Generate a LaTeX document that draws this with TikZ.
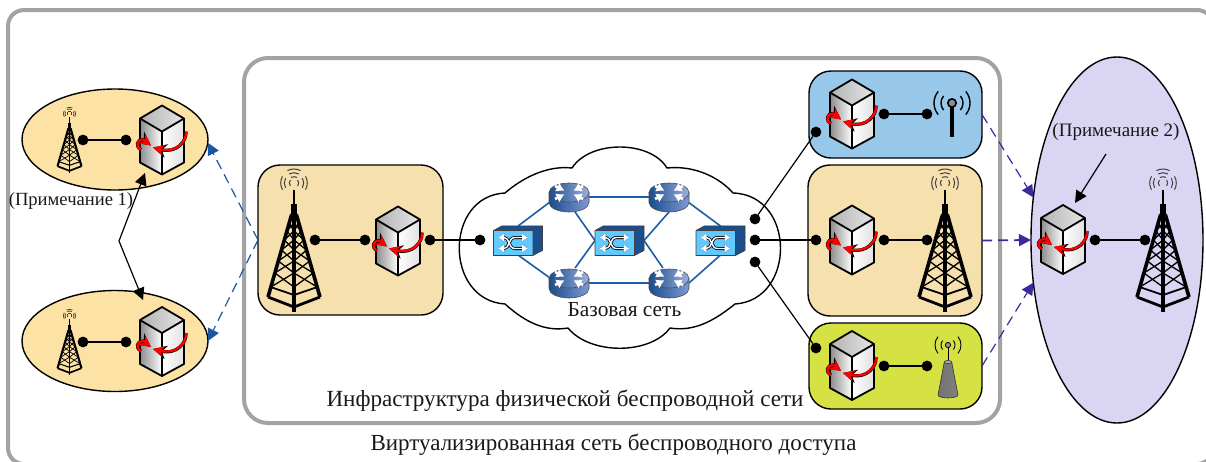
\documentclass[tikz,border=0pt]{standalone}
\usepackage{fontspec}
\usepackage{xcolor}
\setmainfont{Liberation Serif}
\usetikzlibrary{arrows.meta,shapes.geometric,positioning}
\definecolor{framegray}{HTML}{A3A3A3}
\definecolor{sandfill}{HTML}{F5E0AE}
\definecolor{ovalfill}{HTML}{FCE2A4}
\definecolor{skyfill}{HTML}{97C8E9}
\definecolor{limefill}{HTML}{D6E243}
\definecolor{lilacfill}{HTML}{DAD5F3}
\definecolor{netblue}{HTML}{1D5CA8}
\definecolor{dashblue}{HTML}{1B56A0}
\definecolor{dashviolet}{HTML}{3B2A9E}
\definecolor{switchface}{HTML}{62C9FF}
\definecolor{routerdark}{HTML}{1B4C8C}
\definecolor{routerpale}{HTML}{CBD6E6}
\definecolor{routerside}{HTML}{7E9AD6}
\tikzset{
  dot/.style={circle,fill=black,minimum size=5.4pt,inner sep=0pt,outer sep=0pt},
  frame/.style={draw=framegray,line width=2pt,rounded corners=#1},
  panel/.style={draw=black,line width=.7pt,rounded corners=11pt,inner sep=0pt,outer sep=0pt},
  oval/.style={ellipse,draw=black,line width=.7pt,inner sep=0pt,outer sep=0pt},
  routerbox/.style={minimum width=20pt,minimum height=15pt,inner sep=0pt,outer sep=0pt},
  switchbox/.style={minimum width=24.5pt,minimum height=14.5pt,inner sep=0pt,outer sep=0pt},
  wire/.style={line width=.8pt,black},
  slimwire/.style={line width=.6pt,black},
  netlink/.style={line width=.8pt,netblue},
  dashlink/.style={line width=.6pt,dash pattern=on 5pt off 3pt,-{Triangle[length=6pt,width=6pt]}},
  label/.style={inner sep=0pt,text=black!90},
  pics/tower/.style={code={
    \begin{scope}[scale=#1]
      \foreach \r/\a in {13.3/30,9.7/30,4.7/40}{
        \draw[black!75,line width=.25pt+.25pt*#1] (0,-57) ++(180-\a:\r) arc[start angle=180-\a,end angle=180+\a,radius=\r];
        \draw[black!75,line width=.25pt+.25pt*#1] (0,-57) ++(-\a:\r) arc[start angle=-\a,end angle=\a,radius=\r];
      }
      \foreach \r in {14,10.3,6.3}{
        \draw[black!75,line width=.25pt+.25pt*#1] (0,-57) ++(-118:\r) arc[start angle=-118,end angle=-62,radius=\r];
      }
      \draw[black,line width=.3pt+.6pt*#1] (0,-50) -- (0,-36);
      \draw[black,line width=.6pt+2.4pt*#1] (0,-36) -- (0,-25);
      \draw[black,line width=.4pt+1.4pt*#1,line join=round] (-26,57) -- (-2.5,-25) -- (2.5,-25) -- (26,57);
      \draw[black,line width=.4pt+1.3pt*#1] (0,-25) -- (0,72);
      \draw[black,line width=.4pt+1pt*#1,line join=round] (-26,57) -- (0,67) -- (26,57);
      \draw[black,line width=.2pt+.7pt*#1,line join=round] (-23.5,47) -- (0,55) -- (23.5,47);
      \foreach \ya/\yb in {-25/-17,-17/-9,-9/0,0/10,10/21,21/33,33/47}{
        \pgfmathsetmacro\wa{2.5+(\ya+25)*.2866}
        \pgfmathsetmacro\wb{2.5+(\yb+25)*.2866}
        \draw[black,line width=.1pt+.55pt*#1] (-\wa,\ya) -- (0,\yb) -- (\wa,\ya);
        \draw[black,line width=.1pt+.55pt*#1] (-\wb,\yb) -- (0,\ya) -- (\wb,\yb);
      }
    \end{scope}
  }},
  pics/hyper/.style={code={
    \shade[left color=black!30,right color=black!10] (0,-35) -- (22,-22) -- (0,-9) -- (-22,-22) -- cycle;
    \shade[left color=black!45,right color=white] (-22,-22) -- (0,-9) -- (0,34) -- (-22,22) -- cycle;
    \shade[left color=white,right color=black!12] (0,-9) -- (22,-22) -- (22,22) -- (0,34) -- cycle;
    \draw[black,line width=.9pt,line join=round] (0,-35) -- (22,-22) -- (22,22) -- (0,34) -- (-22,22) -- (-22,-22) -- cycle
      (-22,-22) -- (0,-9) -- (22,-22) (0,-9) -- (0,34);
    \foreach \col/\lw/\tl in {black/1.6pt/6.8pt,red/1.15pt/5.6pt}{
      \draw[\col,line width=\lw,-{Stealth[length=\tl,width=\tl]}] (24,-9) .. controls (25,1) and (14,13) .. (-9,7);
      \draw[\col,line width=\lw,-{Stealth[length=\tl,width=\tl]}] (-21,9) .. controls (-27,6) and (-25,-1) .. (-19,-1) .. controls (-16,-1) and (-15,2) .. (-11,5);
    }
  }},
  pics/router/.style={code={
    \shade[left color=routerdark,middle color=white,right color=routerside,draw=black!70,line width=.3pt]
      (-20,-4.5) -- (-20,5.5) arc[start angle=180,end angle=0,x radius=20,y radius=9.5] -- (20,-4.5) -- cycle;
    \shade[left color=routerdark,middle color=routerpale,right color=routerside!60!routerpale,draw=black!70,line width=.3pt] (0,-4.5) ellipse[x radius=20,y radius=9.5];
    \foreach \sx/\sy in {1/1,1/-1,-1/1,-1/-1}{
      \draw[white,line width=1.3pt,-{Latex[length=4pt,width=5pt]}] (\sx*14,-4.5+\sy*6.5) -- (\sx*4.5,-4.5+\sy*1.8);
    }
  }},
  pics/swbox/.style={code={
    \fill[netblue!85!black] (-24.5,-10) -- (-16,-14.7) -- (24.5,-14.7) -- (15,-10) -- cycle;
    \fill[netblue!85!black] (15,-10) -- (24.5,-14.7) -- (24.5,10) -- (15,15) -- cycle;
    \fill[switchface] (-24.5,-10) rectangle (15,15);
    \draw[black!75,line width=.3pt,line join=round] (-24.5,-10) rectangle (15,15) (-24.5,-10) -- (-16,-14.7) -- (24.5,-14.7) -- (15,-10) (24.5,-14.7) -- (24.5,10) -- (15,15);
    \foreach \col/\lw in {black/1.5pt,white/.7pt}{
      \draw[\col,line width=\lw,{Latex[length=3pt,width=4.5pt]}-{Latex[length=3pt,width=4.5pt]}] (-20,-3) -- (-14,-3) .. controls (-8,-3) and (-10,8) .. (-3,8) -- (10,8);
      \draw[\col,line width=\lw,{Latex[length=3pt,width=4.5pt]}-{Latex[length=3pt,width=4.5pt]}] (-20,8) -- (-14,8) .. controls (-8,8) and (-10,-3) .. (-3,-3) -- (10,-3);
    }
  }},
  pics/mast/.style={code={
    \draw[black,line width=1.8pt] (0,0) -- (0,34);
    \fill[black!45,draw=black,line width=.8pt] (0,0) circle[radius=4.2];
    \foreach \r in {11,18}{
      \draw[black,line width=.7pt] (0,0) ++(140:\r) arc[start angle=140,end angle=220,radius=\r];
      \draw[black,line width=.7pt] (0,0) ++(-40:\r) arc[start angle=-40,end angle=40,radius=\r];
    }
  }},
  pics/cone/.style={code={
    \draw[black,line width=.4pt] (0,0) -- (0,17);
    \shade[left color=black!55,middle color=black!10,right color=black!50,draw=black!80,line width=.3pt] (-3.7,17) -- (-10,50) arc[start angle=180,end angle=0,x radius=10,y radius=3] -- (3.7,17) -- cycle;
    \fill[black!30,draw=black!80,line width=.3pt] (0,17) ellipse[x radius=3.7,y radius=1.5];
    \fill[black!40,draw=black,line width=.4pt] (0,0) circle[radius=2.6];
    \foreach \r in {7,13}{
      \draw[black,line width=.45pt] (0,0) ++(140:\r) arc[start angle=140,end angle=220,radius=\r];
      \draw[black,line width=.45pt] (0,0) ++(-40:\r) arc[start angle=-40,end angle=40,radius=\r];
    }
  }}
}
\begin{document}
\begin{tikzpicture}[x=.5pt,y=-.5pt]
  \useasboundingbox (0,0) rectangle (1206,461);
  \draw[frame=8pt] (8,10) rectangle (1213,464);
  \draw[frame=12pt] (244,58) rectangle (1000,423);

  \node[oval,fill=ovalfill,minimum width=93pt,minimum height=50.5pt,name=ea] at (115,139.5) {};
  \node[oval,fill=ovalfill,minimum width=93pt,minimum height=50.5pt,name=eb] at (115,341) {};
  \node[oval,fill=lilacfill,minimum width=86pt,minimum height=183pt,name=ec] at (1117,240) {};

  \node[panel,fill=sandfill,minimum width=92.5pt,minimum height=75pt,name=ba] at (350.5,240) {};
  \node[panel,fill=skyfill,minimum width=86.5pt,minimum height=43.5pt,name=bb] at (895.5,114.5) {};
  \node[panel,fill=sandfill,minimum width=87pt,minimum height=75.5pt,name=bc] at (895,240.5) {};
  \node[panel,fill=limefill,minimum width=86.5pt,minimum height=43pt,name=bd] at (895.5,366) {};

  \draw[black,line width=.7pt,fill=white] (505,193) .. controls (520,180) and (545,165) .. (572,168)
    .. controls (590,140) and (650,140) .. (667,168)
    .. controls (695,165) and (720,178) .. (733,193)
    .. controls (796,195) and (796,300) .. (735,304)
    .. controls (715,320) and (695,332) .. (670,328)
    .. controls (650,355) and (590,355) .. (568,328)
    .. controls (545,332) and (525,322) .. (505,304)
    .. controls (444,300) and (444,196) .. (505,193) -- cycle;

  \node[switchbox,name=sa] at (518,240.5) {};
  \node[switchbox,name=sb] at (619.5,240.5) {};
  \node[switchbox,name=sc] at (720.5,240.5) {};
  \node[routerbox,name=ra] at (569,197) {};
  \node[routerbox,name=rb] at (669,197) {};
  \node[routerbox,name=rc] at (569,283) {};
  \node[routerbox,name=rd] at (669,283) {};

  \path[netlink]
     (sa.north) edge (ra.196)
     (sa.south) edge (rc.164)
     (ra.east) edge (rb.west)
     (rc.east) edge (rd.west)
     (ra.-68) edge (sb.west)
     (rc.68) edge (sb.west)
     (sb.east) edge (rb.south)
     (sb.east) edge (rd.112)
     (rb.-16) edge (sc.north)
     (rd.east) edge (sc.south);

  \pic at (sa) {swbox};
  \pic at (sb) {swbox};
  \pic at (sc) {swbox};
  \pic at (ra) {router};
  \pic at (rb) {router};
  \pic at (rc) {router};
  \pic at (rd) {router};

  \pic at (69.5,140) {tower=.46};
  \pic at (69.5,342) {tower=.46};
  \pic at (294,240) {tower=1};
  \pic at (945,240) {tower=1};
  \pic at (1163,240) {tower=1};

  \pic at (162,140.5) {hyper};
  \pic at (162,342) {hyper};
  \pic at (398,241.5) {hyper};
  \pic at (852,114.5) {hyper};
  \pic at (852,240.5) {hyper};
  \pic at (852,366) {hyper};
  \pic at (1063,240) {hyper};

  \pic at (952,103) {mast};
  \pic at (948,345) {cone};

  \node[dot,name=da] at (83,140) {};
  \node[dot,name=db,right of=da,node distance=21.5pt] {};
  \node[dot,name=dc] at (83,342) {};
  \node[dot,name=dd,right of=dc,node distance=21.5pt] {};
  \node[dot,name=de] at (315,240) {};
  \node[dot,name=df,right of=de,node distance=25pt] {};
  \node[dot,name=dg] at (430,240) {};
  \node[dot,name=dh,right of=dg,node distance=25pt] {};
  \node[dot,name=di] at (755,219) {};
  \node[dot,name=dj,below of=di,node distance=10.5pt] {};
  \node[dot,name=dk,below of=dj,node distance=11pt] {};
  \node[dot,name=dl] at (816,132) {};
  \node[dot,name=dm] at (816,240) {};
  \node[dot,name=dn] at (816,348) {};
  \node[dot,name=do] at (884,114) {};
  \node[dot,name=dp,right of=do,node distance=21.5pt] {};
  \node[dot,name=dq] at (884,240) {};
  \node[dot,name=dr,right of=dq,node distance=21.5pt] {};
  \node[dot,name=ds] at (884,366) {};
  \node[dot,name=dt,right of=ds,node distance=21.5pt] {};
  \node[dot,name=du] at (1095,240) {};
  \node[dot,name=dv,right of=du,node distance=25pt] {};

  \path[wire]
     (da) edge (db)
     (dc) edge (dd)
     (de) edge (df)
     (dg) edge (dh)
     (dj) edge (dm)
     (do) edge (dp)
     (dq) edge (dr)
     (ds) edge (dt)
     (du) edge (dv);
  \path[slimwire]
     (di) edge (dl)
     (dk) edge (dn);

  \coordinate (ma) at (258,240);
  \draw[dashlink,dashblue] (ma) -- (ea.-2);
  \draw[dashlink,dashblue] (ma) -- (eb.east);
  \draw[dashlink,dashviolet] (bb.east) -- (ec.153);
  \draw[dashlink,dashviolet,line width=.9pt] (bc.east) -- (ec.180);
  \draw[dashlink,dashviolet] (bd.east) -- (ec.207);

  \coordinate (na) at (145,173);
  \coordinate (nb) at (119,241);
  \coordinate (nc) at (143,300);
  \draw[slimwire,line join=round,{Triangle[length=6pt,width=6pt]}-{Triangle[length=6pt,width=6pt]}] (na) -- (nb) -- (nc);
  \coordinate (nd) at (1106,154);
  \coordinate (ne) at (1075,203);
  \draw[slimwire,-{Triangle[length=6pt,width=6pt]}] (nd) -- (ne);

  \node[label,font=\fontsize{9.3}{10}\selectfont,name=ta] at (71,201.5) {(Примечание 1)};
  \node[label,font=\fontsize{9.5}{11}\selectfont,name=tb] at (1116,131.5) {(Примечание 2)};
  \node[label,font=\fontsize{10.7}{12}\selectfont,name=tc] at (624.5,309.5) {Базовая сеть};
  \node[label,font=\fontsize{11.55}{13}\selectfont,name=td] at (565,401) {Инфраструктура физической беспроводной сети};
  \node[label,font=\fontsize{11.5}{13}\selectfont,name=te] at (613.5,445) {Виртуализированная сеть беспроводного доступа};
\end{tikzpicture}
\end{document}
